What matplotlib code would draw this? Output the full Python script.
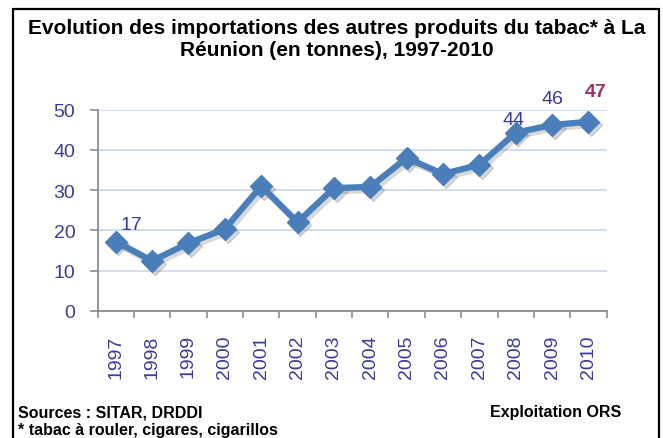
import numpy as np
import matplotlib
matplotlib.use("Agg")
import matplotlib.pyplot as plt
import matplotlib.transforms as mtransforms
from matplotlib.patches import Rectangle

plt.rcParams['font.family'] = ['Liberation Sans', 'DejaVu Sans']

# data
years = [1997, 1998, 1999, 2000, 2001, 2002, 2003, 2004, 2005, 2006, 2007, 2008, 2009, 2010]
tonnes = [17.2, 12.4, 16.8, 20.3, 31.0, 22.0, 30.5, 30.8, 38.0, 34.0, 36.3, 44.3, 46.2, 47.0]
labelled = [1997, 2008, 2009, 2010]
yticks = [0, 10, 20, 30, 40, 50]

title = "Evolution des importations des autres produits du tabac* à La\nRéunion (en tonnes), 1997-2010"
source_txt = "Sources : SITAR, DRDDI"
note_txt = "* tabac à rouler, cigares, cigarillos"
credit_txt = "Exploitation ORS"

line_col = '#4a7ebb'
txt_col = '#3b3b9c'
last_col = '#993366'
grid_col = '#c6d8ee'
axis_col = '#8c8c8c'

W, H = 663, 439
fig = plt.figure(figsize=(W / 100, H / 100), dpi=100)
ax = fig.add_axes([97.5 / W, 1 - 311.7 / H, (606.6 - 97.5) / W, (311.7 - 110.7) / H])

x = np.arange(len(years))

# soft shadow under the line
shadow = mtransforms.offset_copy(ax.transData, fig=fig, x=2.0, y=-2.0, units='points')
ax.plot(x, tonnes, color='#7f7f7f', alpha=0.3, lw=5, marker='D', ms=11,
        transform=shadow, zorder=2, solid_joinstyle='miter')
ax.plot(x, tonnes, color=line_col, lw=4.5, marker='D', ms=11,
        zorder=3, solid_joinstyle='miter')

# data labels
offsets = {1997: (11.5, 12.2), 2008: (-1.4, 9.4), 2009: (0, 19.4), 2010: (5, 21.6)}
for yr in labelled:
    i = years.index(yr)
    last = yr == years[-1]
    ax.annotate(f"{tonnes[i]:.0f}", (x[i], tonnes[i]), xytext=offsets[yr],
                textcoords='offset points', ha='center', va='center',
                fontsize=14, color=last_col if last else txt_col,
                fontweight='bold' if last else 'normal', annotation_clip=False)

ax.set_xlim(-0.5, len(years) - 0.5)
ax.set_ylim(0, 50)
ax.set_yticks(yticks)
ax.yaxis.grid(True, which='major', color=grid_col, lw=1.2)
ax.set_axisbelow(True)

ax.set_xticks(np.arange(-0.5, len(years)), labels=[])
ax.set_xticks(x, labels=[str(y) for y in years], minor=True)
ax.tick_params(axis='x', which='major', length=5, width=1.2, color=axis_col, direction='out')
ax.tick_params(axis='x', which='minor', length=0, pad=17, labelsize=14, labelcolor=txt_col,
               labelrotation=90)
ax.tick_params(axis='y', which='major', length=5.5, width=1.2, color=axis_col, direction='out',
               pad=10.5, labelsize=14, labelcolor=txt_col)

for s in ['top', 'right']:
    ax.spines[s].set_visible(False)
for s in ['left', 'bottom']:
    ax.spines[s].set_color(axis_col)
    ax.spines[s].set_linewidth(1.3)

# titles and notes
fig.text(337 / W, 1 - 18.5 / H, title, ha='center', va='top', fontsize=15,
         fontweight='bold', linespacing=1.22)
fig.text(18 / W, 1 - 413 / H, source_txt, ha='left', va='center', fontsize=11.5, fontweight='bold')
fig.text(18 / W, 1 - 431 / H, note_txt, ha='left', va='center', fontsize=11.5, fontweight='bold')
fig.text(621 / W, 1 - 413 / H, credit_txt, ha='right', va='center', fontsize=11.5, fontweight='bold')

# outer frame
fig.patches.append(Rectangle((13 / W, -0.1), (659 - 13) / W, 1.1 - 10 / H,
                             transform=fig.transFigure, fill=False, ec='black', lw=1.6))

fig.savefig('out.png', dpi=100)
